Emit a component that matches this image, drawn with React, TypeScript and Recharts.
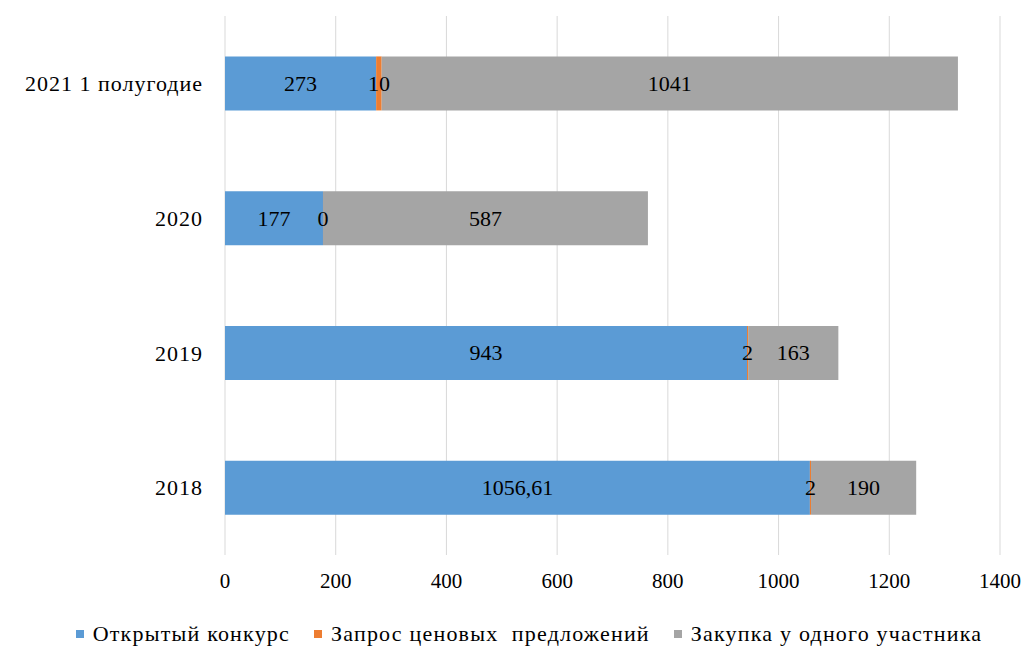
import { BarChart, Bar, XAxis, YAxis, CartesianGrid, Legend, LabelList } from 'recharts'

const categories = ['2021 1 полугодие', '2020', '2019', '2018']
const openTender = [273, 177, 943, 1056.61]
const priceRequest = [10, 0, 2, 2]
const singleSupplier = [1041, 587, 163, 190]
const xTicks = [0, 200, 400, 600, 800, 1000, 1200, 1400]

const series = [
  { key: 'open', name: 'Открытый конкурс', color: '#5b9bd5' },
  { key: 'request', name: 'Запрос ценовых  предложений', color: '#ed7d31' },
  { key: 'single', name: 'Закупка у одного участника', color: '#a5a5a5' },
]

const data = categories.map((c, i) => ({
  cat: c,
  open: openTender[i],
  request: priceRequest[i],
  single: singleSupplier[i],
}))

const FONT = '"Liberation Serif", "Times New Roman", serif'

const fmt = (v: any) => String(v).replace('.', ',')

function BarLabel(props: any) {
  const { x, y, width, height, value } = props
  if (value === undefined || value === null) return null
  return (
    <text x={Number(x) + Number(width) / 2} y={Number(y) + Number(height) / 2}
      textAnchor='middle' dominantBaseline='central' fontSize={22}
      fontFamily={FONT} fill='#000'>
      {fmt(value)}
    </text>
  )
}

function LegendBox() {
  return (
    <div style={{ display: 'flex', justifyContent: 'center', alignItems: 'center',
      fontFamily: FONT, fontSize: 22, letterSpacing: 1.2, color: '#000', gap: 24,
      paddingLeft: 58 }}>
      {series.map(s => (
        <span key={s.key} style={{ display: 'inline-flex', alignItems: 'center', whiteSpace: 'pre' }}>
          <span style={{ width: 8, height: 8, background: s.color, display: 'inline-block',
            marginRight: 9 }} />
          {s.name}
        </span>
      ))}
    </div>
  )
}

export default function App() {
  return (
    <div style={{ position: 'absolute', left: 0, top: 0, background: '#fff' }}>
      <BarChart width={1027} height={648} data={data} layout='vertical'
        margin={{ top: 16, right: 27, left: 0, bottom: 17 }} barCategoryGap='30%'>
        <CartesianGrid horizontal={false} stroke='#d9d9d9' />
        <XAxis type='number' domain={[0, 1400]} ticks={xTicks} axisLine={false}
          tickLine={false} height={50} tickMargin={12}
          tick={{ fontSize: 21, fill: '#000', fontFamily: FONT }} />
        <YAxis type='category' dataKey='cat' width={225} axisLine={false}
          tickLine={false} tickMargin={16}
          tick={{ fontSize: 22, fill: '#000', fontFamily: FONT, letterSpacing: 1 }} />
        <Legend verticalAlign='bottom' content={<LegendBox />}
          wrapperStyle={{ bottom: 1 }} />
        {series.map(s => (
          <Bar key={s.key} dataKey={s.key} name={s.name} stackId='a' fill={s.color}
            minPointSize={s.key === 'request' ? 0.01 : 0}
            isAnimationActive={false}>
            <LabelList dataKey={s.key} content={<BarLabel />} />
          </Bar>
        ))}
      </BarChart>
    </div>
  )
}
